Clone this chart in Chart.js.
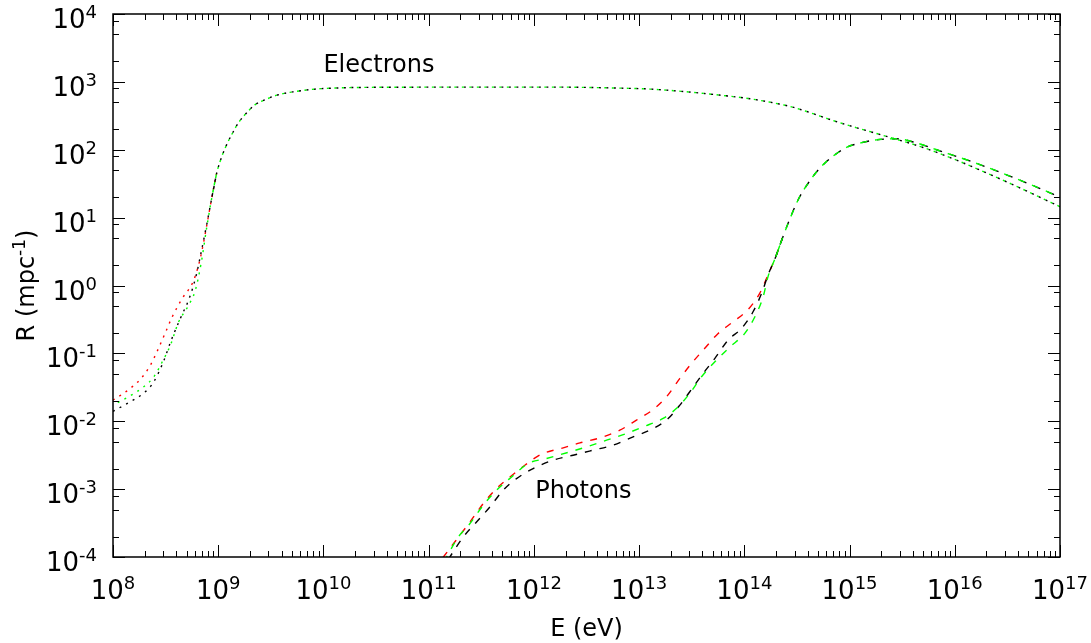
<!DOCTYPE html>
<html>
<head>
<meta charset="utf-8">
<script src="https://cdn.jsdelivr.net/npm/chart.js@4.4.0/dist/chart.umd.min.js"></script>
<style>
  body { margin: 0; background: #fff; }
  #wrap { width: 1091px; height: 643px; }
</style>
</head>
<body>
<div id="wrap"><canvas id="chart" width="1091" height="643"></canvas></div>
<script>
// energies in eV, R in mpc^-1

// electrons, low energy part (the three runs differ here)
const elecRedE   = [1.0e8, 1.43e8, 1.85e8, 2.25e8, 2.60e8, 3.17e8, 3.66e8, 4.56e8, 5.68e8, 6.38e8, 6.97e8, 7.82e8]
const elecRedR   = [0.0205, 0.0297, 0.0428, 0.0656, 0.1035, 0.208, 0.347, 0.647, 1.08, 1.79, 3.15, 8.0]
const elecGreenE = [1.0e8, 1.49e8, 1.94e8, 2.47e8, 2.94e8, 3.51e8, 4.21e8, 5.13e8, 6.07e8, 6.92e8, 7.82e8]
const elecGreenR = [0.0172, 0.0242, 0.0318, 0.0462, 0.0752, 0.132, 0.292, 0.486, 0.859, 2.24, 7.6]
const elecBlackE = [1.0e8, 1.45e8, 1.94e8, 2.42e8, 3.01e8, 3.58e8, 4.37e8, 5.35e8, 6.19e8, 6.75e8, 7.82e8]
const elecBlackR = [0.0140, 0.0193, 0.0257, 0.0373, 0.0752, 0.157, 0.328, 0.670, 1.43, 2.66, 8.26]

// electrons, common part
const elecTailE = [8.73e8, 9.66e8, 1.08e9, 1.20e9, 1.34e9, 1.55e9, 1.79e9, 2.23e9, 2.78e9, 3.72e9, 5.40e9, 8.36e9,
                   1.29e10, 2.0e10, 1e11, 1.53e12, 6.1e12, 1.27e13, 2.64e13, 5.43e13, 1.13e14, 2.34e14, 2.95e14,
                   8.1e14, 2.42e15, 5.0e15, 1.0e16, 3.2e16, 1.0e17]
const elecTailR = [20.4, 45, 79, 118, 166, 247, 327, 459, 544, 646, 721, 783,
                   811, 826, 836, 838, 811, 783, 721, 646, 564, 459, 420,
                   250, 152, 108, 72, 33, 14.5]

// photons, low energy part
const photRedE   = [1.12e11, 1.38e11, 1.98e11, 2.47e11, 3.30e11, 4.42e11, 5.92e11, 8.20e11, 1.18e12, 1.90e12, 2.74e12, 4.24e12,
                    6.56e12, 9.44e12, 1.36e13, 1.82e13, 2.44e13, 3.15e13, 4.21e13, 5.64e13, 7.82e13, 1.09e14, 1.40e14, 1.68e14]
const photRedR   = [6.5e-5, 1.0e-4, 2.09e-4, 3.28e-4, 6.13e-4, 1.02e-3, 1.51e-3, 2.25e-3, 3.27e-3, 4.05e-3, 4.80e-3, 5.69e-3,
                    7.39e-3, 0.0104, 0.0149, 0.0229, 0.0428, 0.0712, 0.119, 0.197, 0.292, 0.446, 0.767, 1.43]
const photGreenE = [1.20e11, 1.48e11, 1.91e11, 2.47e11, 3.30e11, 4.42e11, 6.14e11, 8.83e11, 1.32e12, 2.20e12, 3.17e12, 4.91e12,
                    7.60e12, 1.09e13, 1.69e13, 2.27e13, 3.03e13, 3.92e13, 5.25e13, 7.28e13, 1.01e14, 1.26e14, 1.51e14, 1.68e14]
const photGreenR = [5.8e-5, 1.0e-4, 1.97e-4, 3.11e-4, 5.79e-4, 9.64e-4, 1.51e-3, 2.39e-3, 2.83e-3, 3.54e-3, 4.19e-3, 5.26e-3,
                    6.61e-3, 8.26e-3, 0.011, 0.0155, 0.0257, 0.0452, 0.0752, 0.124, 0.197, 0.347, 0.684, 1.35]
const photBlackE = [1.29e11, 1.59e11, 2.13e11, 2.85e11, 3.82e11, 5.11e11, 6.84e11, 9.84e11, 1.52e12, 2.36e12, 3.66e12, 5.66e12,
                    8.77e12, 1.26e13, 1.82e13, 2.44e13, 3.03e13, 4.06e13, 5.25e13, 7.02e13, 9.40e13, 1.21e14, 1.46e14, 1.68e14]
const photBlackR = [6e-5, 1.0e-4, 1.97e-4, 3.28e-4, 5.46e-4, 9.64e-4, 1.43e-3, 2.01e-3, 2.67e-3, 3.16e-3, 3.75e-3, 4.45e-3,
                    5.89e-3, 7.39e-3, 0.0104, 0.0173, 0.0272, 0.0507, 0.0845, 0.157, 0.233, 0.410, 0.767, 1.43]

// photons, common part
const photTailE = [1.99e14, 2.30e14, 2.70e14, 3.24e14, 4.04e14, 5.21e14, 7.24e14, 9.68e14, 1.17e15, 1.81e15, 2.80e15,
                   4.34e15, 6.71e15, 1.48e16, 3.32e16, 6.40e16, 1.0e17]
const photTailR = [2.66, 4.97, 9.46, 18.2, 32.1, 53.5, 84.1, 111, 122, 140, 145,
                   126, 100, 66, 41, 27, 20]

// axis ticks
const xDecades = [8, 9, 10, 11, 12, 13, 14, 15, 16, 17]
const yDecades = [-4, -3, -2, -1, 0, 1, 2, 3, 4]
const xMinor = [2, 3, 4, 5, 6, 7, 8, 9]
const yMinor = [2, 5, 8]

const FONT = '"DejaVu Sans", sans-serif'

function pts(e, r) {
    let out = []
    for (let i = 0; i < e.length; i++) out.push({x: e[i], y: r[i]})
    return out
}

function line(label, data, color, dash, offset, order) {
    return {
        label: label,
        data: data,
        borderColor: color,
        borderWidth: 1.4,
        borderDash: dash,
        borderDashOffset: offset,
        pointRadius: 0,
        fill: false,
        cubicInterpolationMode: 'monotone',
        order: order
    }
}

const dotted = [2, 5.5]
const dashed = [7, 8]

// low parts run one point into the shared tail, so the curves join up;
// the shared tails are drawn once per colour so the dash phases line up
function low(e, r, te, tr) {
    return pts(e.concat(te.slice(0, 2)), r.concat(tr.slice(0, 2)))
}

datasets = [
    line('e red',   low(elecRedE, elecRedR, elecTailE, elecTailR), '#ff0000', dotted, 0, 3),
    line('e black', low(elecBlackE, elecBlackR, elecTailE, elecTailR), '#000000', dotted, 0, 2),
    line('e green', low(elecGreenE, elecGreenR, elecTailE, elecTailR), '#00ff00', dotted, 2, 1),
    line('e black tail', pts(elecTailE, elecTailR), '#000000', dotted, 0, 1),
    line('e green tail', pts(elecTailE, elecTailR), '#00ff00', dotted, 2, 0),
    line('g red',   low(photRedE, photRedR, photTailE, photTailR), '#ff0000', dashed, 0, 3),
    line('g black', low(photBlackE, photBlackR, photTailE, photTailR), '#000000', dashed, 0, 2),
    line('g green', low(photGreenE, photGreenR, photTailE, photTailR), '#00ff00', dashed, 2, 1),
    line('g black tail', pts(photTailE, photTailR), '#000000', dashed, 0, 1),
    line('g green tail', pts(photTailE, photTailR), '#00ff00', dashed, 2, 0)
]

// draw "10" with a raised exponent
function drawPow(ctx, exp, x, y, align) {
    ctx.font = '26px ' + FONT
    const wb = ctx.measureText('10').width
    ctx.font = '18px ' + FONT
    const we = ctx.measureText(exp).width
    let x0 = align == 'center' ? x - (wb + we) / 2 : x - wb - we
    ctx.textAlign = 'left'
    ctx.textBaseline = 'alphabetic'
    ctx.font = '26px ' + FONT
    ctx.fillText('10', x0, y)
    ctx.font = '18px ' + FONT
    ctx.fillText(exp, x0 + wb, y - 10)
}

const frame = {
    id: 'frame',
    afterDraw(chart) {
        const ctx = chart.ctx
        const a = chart.chartArea
        const xs = chart.scales.x
        const ys = chart.scales.y
        ctx.save()
        ctx.strokeStyle = '#000'
        ctx.fillStyle = '#000'

        // inward ticks on all four sides
        ctx.lineWidth = 1
        ctx.beginPath()
        for (const d of xDecades) {
            const px = Math.round(xs.getPixelForValue(Math.pow(10, d))) + 0.5
            ctx.moveTo(px, a.bottom); ctx.lineTo(px, a.bottom - 12)
            ctx.moveTo(px, a.top); ctx.lineTo(px, a.top + 12)
            if (d == 17) continue
            for (const m of xMinor) {
                const p = Math.round(xs.getPixelForValue(m * Math.pow(10, d))) + 0.5
                ctx.moveTo(p, a.bottom); ctx.lineTo(p, a.bottom - 6)
                ctx.moveTo(p, a.top); ctx.lineTo(p, a.top + 6)
            }
        }
        for (const d of yDecades) {
            const py = Math.round(ys.getPixelForValue(Math.pow(10, d))) + 0.5
            ctx.moveTo(a.left, py); ctx.lineTo(a.left + 12, py)
            ctx.moveTo(a.right, py); ctx.lineTo(a.right - 12, py)
            if (d == 4) continue
            for (const m of yMinor) {
                const p = Math.round(ys.getPixelForValue(m * Math.pow(10, d))) + 0.5
                ctx.moveTo(a.left, p); ctx.lineTo(a.left + 6, p)
                ctx.moveTo(a.right, p); ctx.lineTo(a.right - 6, p)
            }
        }
        ctx.stroke()

        ctx.lineWidth = 1.5
        ctx.strokeRect(a.left, a.top, a.right - a.left, a.bottom - a.top)

        // tick labels
        for (const d of xDecades) {
            drawPow(ctx, String(d), xs.getPixelForValue(Math.pow(10, d)), a.bottom + 42, 'center')
        }
        for (const d of yDecades) {
            drawPow(ctx, String(d), a.left - 16, ys.getPixelForValue(Math.pow(10, d)) + 14, 'right')
        }

        // axis titles
        ctx.font = '24px ' + FONT
        ctx.textAlign = 'center'
        ctx.fillText('E (eV)', (a.left + a.right) / 2, 636)

        ctx.translate(34, (a.top + a.bottom) / 2)
        ctx.rotate(-Math.PI / 2)
        ctx.font = '24px ' + FONT
        const w1 = ctx.measureText('R (mpc').width
        const w3 = ctx.measureText(')').width
        ctx.font = '17px ' + FONT
        const w2 = ctx.measureText('-1').width
        let x0 = -(w1 + w2 + w3) / 2
        ctx.textAlign = 'left'
        ctx.font = '24px ' + FONT
        ctx.fillText('R (mpc', x0, 0)
        ctx.fillText(')', x0 + w1 + w2, 0)
        ctx.font = '17px ' + FONT
        ctx.fillText('-1', x0 + w1, -9)
        ctx.restore()

        // curve labels
        ctx.save()
        ctx.fillStyle = '#000'
        ctx.font = '24px ' + FONT
        ctx.textAlign = 'left'
        ctx.fillText('Electrons', xs.getPixelForValue(1.0e10), ys.getPixelForValue(1420))
        ctx.fillText('Photons', xs.getPixelForValue(1.03e12), ys.getPixelForValue(7.3e-4))
        ctx.restore()
    }
}

ctx = document.getElementById('chart')
config = {
    type: 'line',
    data: { datasets: datasets },
    options: {
        responsive: false,
        animation: false,
        devicePixelRatio: 1,
        layout: { padding: { left: 113, right: 31, top: 14, bottom: 86 } },
        plugins: { legend: { display: false }, tooltip: { enabled: false } },
        scales: {
            x: { type: 'logarithmic', min: 1e8, max: 1e17, display: false },
            y: { type: 'logarithmic', min: 1e-4, max: 1e4, display: false }
        }
    },
    plugins: [frame]
}
new Chart(ctx, config)
</script>
</body>
</html>
